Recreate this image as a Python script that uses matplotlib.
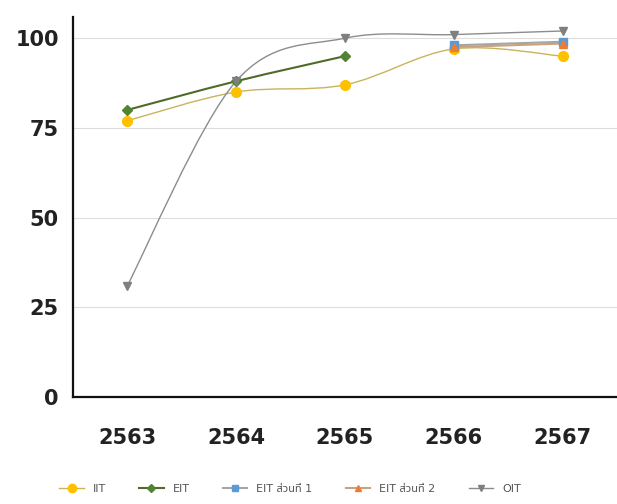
import numpy as np
import matplotlib.pyplot as plt
from matplotlib.path import Path
from matplotlib.patches import PathPatch

plt.rcParams['font.family'] = ['DejaVu Sans', 'Noto Sans Thai', 'Noto Sans', 'TLWG Typo', 'Loma', 'Garuda']

years = [2563, 2564, 2565, 2566, 2567]
iit = [77, 85, 87, 97, 95]
eit = [80, 88, 95, None, None]
eit1 = [None, None, None, 98, 99]
eit2 = [None, None, None, 97.5, 98.5]
oit = [31, 88, 100, 101, 102]

names = ['IIT', 'EIT', 'EIT ส่วนที่ 1', 'EIT ส่วนที่ 2', 'OIT']
colors = ['#FFC000', '#548235', '#5B9BD5', '#ED7D31', '#7F7F7F']
line_colors = ['#C8B45A', '#4F6B2A', '#A5A5A5', '#C9A27E', '#8C8C8C']
markers = ['o', 'D', 's', '^', 'v']
msizes = [7, 5, 6, 6, 6]
lws = [1.0, 1.5, 1.5, 1.5, 1.0]


def smooth_path(xs, ys, t=1.0 / 6):
    # Catmull-Rom -> cubic bezier, like Excel's smoothed lines
    pts = np.column_stack([xs, ys])
    verts = [pts[0]]
    codes = [Path.MOVETO]
    n = len(pts)
    for i in range(n - 1):
        p0 = pts[i - 1] if i > 0 else pts[i]
        p1 = pts[i]
        p2 = pts[i + 1]
        p3 = pts[i + 2] if i + 2 < n else pts[i + 1]
        c1 = p1 + (p2 - p0) * t
        c2 = p2 - (p3 - p1) * t
        verts += [c1, c2, p2]
        codes += [Path.CURVE4] * 3
    return Path(verts, codes)


fig = plt.figure(figsize=(6.17, 5.04), dpi=100)
ax = fig.add_axes([0.118, 0.212, 0.882, 0.755])

series = [iit, eit, eit1, eit2, oit]
for k, vals in enumerate(series):
    xs = [x for x, v in zip(years, vals) if v is not None]
    ys = [v for v in vals if v is not None]
    ax.add_patch(PathPatch(smooth_path(xs, ys), fill=False,
                           edgecolor=line_colors[k], lw=lws[k], zorder=2))
    ax.plot(xs, ys, linestyle='none', marker=markers[k], ms=msizes[k],
            color=colors[k], mec=colors[k], zorder=3)
    ax.plot([], [], color=line_colors[k], lw=lws[k], marker=markers[k],
            ms=msizes[k] - 1, mfc=colors[k], mec=colors[k], label=names[k])

ax.set_xlim(2562.5, 2567.5)
ax.set_ylim(0, 106)
ax.set_yticks([0, 25, 50, 75, 100])
ax.set_xticks(years)
ax.set_xticklabels([str(y) for y in years])
ax.tick_params(length=0, labelsize=15)
ax.tick_params(axis='x', pad=22)
ax.tick_params(axis='y', pad=10)
for lab in ax.get_xticklabels() + ax.get_yticklabels():
    lab.set_fontweight('bold')
    lab.set_color('#222222')
ax.grid(axis='y', color='#DDDDDD', lw=0.8)
ax.set_axisbelow(True)
for s in ['top', 'right']:
    ax.spines[s].set_visible(False)
for s in ['left', 'bottom']:
    ax.spines[s].set_color('#111111')
    ax.spines[s].set_linewidth(1.6)

fig.legend(loc='lower left', bbox_to_anchor=(0.08, 0.0), ncol=5, frameon=False,
           fontsize=8, handlelength=2.2, columnspacing=3.0, labelcolor='#555555')

fig.savefig('out.png', dpi=100)
